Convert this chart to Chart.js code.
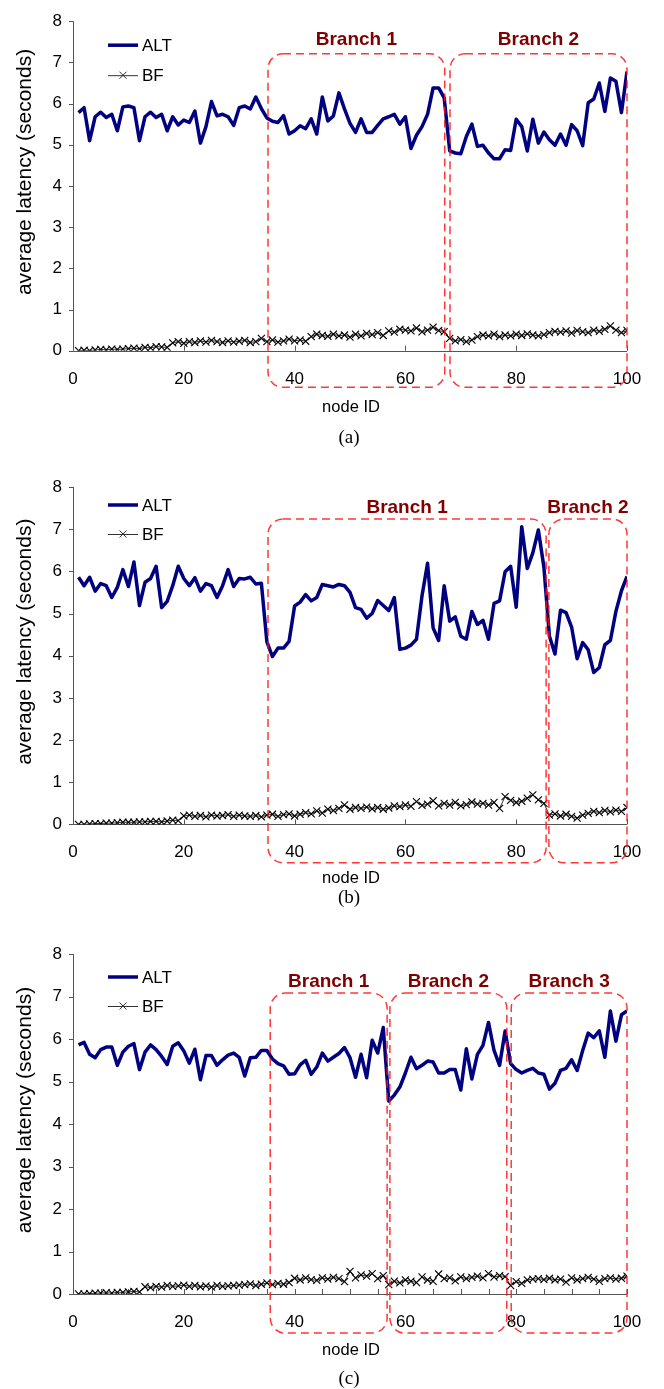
<!DOCTYPE html>
<html>
<head>
<meta charset="utf-8">
<script src="https://cdn.jsdelivr.net/npm/chart.js@4.4.0/dist/chart.umd.min.js"></script>
<style>
  html, body { margin: 0; padding: 0; background: #fff; }
  body { width: 664px; height: 1389px; position: relative; overflow: hidden; }
  /* 450px tall so the "node ID" title is not clipped */
  .panel { position: absolute; left: 0; width: 664px; height: 450px; }
  .caption {
    position: absolute; left: 299px; width: 100px; height: 22px; line-height: 22px;
    text-align: center; color: #000;
    font-family: "Liberation Serif", "DejaVu Serif", serif; font-size: 19px;
  }
</style>
</head>
<body>
<div class="panel" style="top:0"><canvas id="chartA"></canvas></div>
<div class="panel" style="top:460px"><canvas id="chartB"></canvas></div>
<div class="panel" style="top:930px"><canvas id="chartC"></canvas></div>
<div class="caption" style="top:426px">(a)</div>
<div class="caption" style="top:886px">(b)</div>
<div class="caption" style="top:1367px">(c)</div>
<script>
// node IDs 1..100
const nodeIds = Array.from({ length: 100 }, (_, i) => i + 1);
const xTicks = [0, 20, 40, 60, 80, 100];
const yTicks = [0, 1, 2, 3, 4, 5, 6, 7, 8];

// (a)
const altA = [
  5.78, 5.90, 5.10, 5.68, 5.79, 5.66, 5.74, 5.34, 5.92, 5.94,
  5.90, 5.10, 5.68, 5.79, 5.66, 5.74, 5.34, 5.68, 5.48, 5.60,
  5.54, 5.82, 5.04, 5.44, 6.05, 5.70, 5.74, 5.68, 5.47, 5.90,
  5.94, 5.87, 6.16, 5.88, 5.65, 5.57, 5.54, 5.71, 5.26, 5.34,
  5.46, 5.39, 5.63, 5.26, 6.16, 5.58, 5.70, 6.26, 5.87, 5.52,
  5.30, 5.63, 5.30, 5.30, 5.47, 5.63, 5.68, 5.74, 5.50, 5.68,
  4.91, 5.23, 5.44, 5.74, 6.38, 6.38, 6.14, 4.85, 4.80, 4.78,
  5.20, 5.50, 4.96, 4.99, 4.80, 4.66, 4.66, 4.88, 4.86, 5.62,
  5.44, 4.85, 5.62, 5.04, 5.31, 5.12, 4.99, 5.26, 4.99, 5.49,
  5.34, 4.98, 6.02, 6.11, 6.50, 5.81, 6.62, 6.54, 5.78, 6.78
];
const bfA = [
  0.00, 0.01, 0.00, 0.02, 0.03, 0.02, 0.04, 0.03, 0.04, 0.05,
  0.06, 0.05, 0.08, 0.07, 0.10, 0.09, 0.08,
  0.19, 0.22, 0.18, 0.22, 0.20, 0.24, 0.21, 0.25, 0.22, 0.20, 0.24, 0.21, 0.23, 0.25, 0.20, 0.22,
  0.30, 0.22, 0.26, 0.21, 0.24, 0.28, 0.24,
  0.26, 0.23, 0.34, 0.40, 0.37, 0.35, 0.40, 0.36, 0.38, 0.33, 0.40, 0.36, 0.42, 0.39, 0.44, 0.37,
  0.48, 0.45, 0.52, 0.50, 0.48, 0.55, 0.46, 0.50, 0.57, 0.49, 0.46,
  0.30, 0.24, 0.27, 0.22, 0.26,
  0.34, 0.38, 0.36, 0.40, 0.34, 0.38, 0.36, 0.40, 0.37, 0.41, 0.38, 0.36, 0.39,
  0.44, 0.47, 0.45, 0.48, 0.43, 0.49, 0.46, 0.44, 0.50, 0.47, 0.52, 0.60, 0.50, 0.44, 0.49
];
const branchNamesA = ["Branch 1", "Branch 2"];
const branchRangesA = [[35.2, 67.1], [68.05, 100]];

// (b)
const altB = [
  5.86, 5.66, 5.86, 5.53, 5.71, 5.66, 5.38, 5.62, 6.04, 5.64,
  6.22, 5.19, 5.74, 5.83, 6.12, 5.14, 5.29, 5.66, 6.12, 5.83,
  5.66, 5.85, 5.53, 5.71, 5.66, 5.38, 5.66, 6.04, 5.64, 5.83,
  5.82, 5.86, 5.70, 5.72, 4.33, 3.98, 4.18, 4.18, 4.34, 5.18,
  5.27, 5.45, 5.30, 5.38, 5.69, 5.66, 5.63, 5.69, 5.66, 5.50,
  5.14, 5.10, 4.89, 5.00, 5.31, 5.19, 5.07, 5.38, 4.15, 4.18,
  4.25, 4.39, 5.42, 6.19, 4.66, 4.36, 5.66, 4.82, 4.92, 4.46,
  4.39, 5.05, 4.74, 4.84, 4.39, 5.24, 5.30, 5.99, 6.12, 5.15,
  7.06, 6.07, 6.44, 6.98, 6.10, 4.46, 4.04, 5.08, 5.02, 4.68,
  3.93, 4.31, 4.14, 3.60, 3.72, 4.26, 4.36, 5.05, 5.54, 5.88
];
const bfB = [
  0.00, 0.00, 0.01, 0.02, 0.02, 0.03, 0.03, 0.04, 0.05, 0.05,
  0.05, 0.06, 0.06, 0.07, 0.07, 0.06, 0.08, 0.10, 0.09,
  0.20, 0.22, 0.19, 0.21, 0.18, 0.22, 0.20, 0.21, 0.23, 0.19, 0.22, 0.20, 0.19, 0.21, 0.18, 0.22,
  0.24, 0.19, 0.23, 0.25, 0.20, 0.24, 0.28,
  0.25, 0.32, 0.27, 0.36, 0.33, 0.38, 0.46,
  0.36, 0.40, 0.38, 0.41, 0.37, 0.40, 0.36, 0.39,
  0.44, 0.42, 0.46, 0.43,
  0.54, 0.45, 0.48, 0.56, 0.44, 0.50, 0.46, 0.52, 0.44, 0.47, 0.53, 0.48, 0.50, 0.46, 0.52,
  0.38,
  0.66, 0.57, 0.52, 0.55, 0.62, 0.70, 0.58, 0.50,
  0.22, 0.25, 0.20, 0.24, 0.19, 0.15, 0.22, 0.26,
  0.31, 0.28, 0.33, 0.30, 0.34, 0.31, 0.40
];
const branchNamesB = ["Branch 1", "Branch 2"];
const branchRangesB = [[35.2, 85.4], [85.9, 100]];

// (c)
const altC = [
  5.86, 5.92, 5.64, 5.56, 5.75, 5.81, 5.81, 5.38, 5.69, 5.83,
  5.89, 5.28, 5.69, 5.86, 5.75, 5.59, 5.40, 5.83, 5.91, 5.72,
  5.43, 5.76, 5.04, 5.61, 5.61, 5.38, 5.51, 5.62, 5.67, 5.57,
  5.13, 5.56, 5.57, 5.73, 5.73, 5.53, 5.42, 5.37, 5.17, 5.18,
  5.39, 5.50, 5.17, 5.34, 5.67, 5.48, 5.57, 5.66, 5.80, 5.56,
  5.10, 5.64, 5.09, 5.97, 5.67, 6.27, 4.54, 4.68, 4.87, 5.20,
  5.57, 5.30, 5.38, 5.48, 5.46, 5.20, 5.20, 5.28, 5.28, 4.80,
  5.77, 5.06, 5.64, 5.85, 6.39, 5.73, 5.38, 6.19, 5.42, 5.28,
  5.20, 5.26, 5.31, 5.20, 5.17, 4.82, 4.96, 5.26, 5.31, 5.51,
  5.26, 5.73, 6.14, 6.03, 6.19, 5.57, 6.66, 5.95, 6.57, 6.66
];
const bfC = [
  0.00, 0.00, 0.01, 0.02, 0.02, 0.03, 0.02, 0.04, 0.04, 0.05, 0.06, 0.05,
  0.17, 0.15, 0.18, 0.16, 0.20, 0.18, 0.19, 0.21, 0.18, 0.20, 0.17, 0.19, 0.16, 0.20, 0.18, 0.19, 0.20, 0.21,
  0.22, 0.24, 0.20, 0.23, 0.26, 0.22, 0.25, 0.23, 0.27,
  0.37, 0.33, 0.38, 0.34, 0.32, 0.38, 0.35, 0.39, 0.36, 0.29,
  0.53, 0.38, 0.45, 0.42, 0.48, 0.36, 0.43,
  0.22, 0.30, 0.26, 0.33, 0.30, 0.27, 0.40, 0.33, 0.30,
  0.47, 0.36, 0.38, 0.31, 0.40, 0.36, 0.39, 0.42, 0.38, 0.48, 0.40, 0.43, 0.41,
  0.20, 0.29, 0.25, 0.33,
  0.35, 0.36, 0.34, 0.37, 0.33, 0.35, 0.28, 0.38, 0.33, 0.36, 0.39, 0.35, 0.30, 0.36, 0.38, 0.35, 0.37, 0.42
];
const branchNamesC = ["Branch 1", "Branch 2", "Branch 3"];
const branchRangesC = [[35.6, 56.7], [57.2, 78.3], [79.1, 100]];

const NAVY = "#000080";
const SANS = "'Liberation Sans', Arial, Helvetica, sans-serif";
const PANEL_H = 450;

function roundRect(ctx, x, y, w, h, r) {
  ctx.beginPath();
  ctx.moveTo(x + r, y);
  ctx.lineTo(x + w - r, y);
  ctx.arcTo(x + w, y, x + w, y + r, r);
  ctx.lineTo(x + w, y + h - r);
  ctx.arcTo(x + w, y + h, x + w - r, y + h, r);
  ctx.lineTo(x + r, y + h);
  ctx.arcTo(x, y + h, x, y + h - r, r);
  ctx.lineTo(x, y + r);
  ctx.arcTo(x, y, x + r, y, r);
  ctx.closePath();
}

const decor = {
  id: "decor",
  beforeDatasetsDraw(chart, args, o) {
    const { ctx, chartArea: a, scales: { x, y } } = chart;
    ctx.save();
    ctx.strokeStyle = "#555";
    ctx.lineWidth = 1;
    ctx.beginPath();
    ctx.moveTo(a.left + 0.5, a.top);
    ctx.lineTo(a.left + 0.5, a.bottom);
    ctx.moveTo(a.left, Math.round(a.bottom) + 0.5);
    ctx.lineTo(a.right, Math.round(a.bottom) + 0.5);
    yTicks.forEach(v => {
      const py = Math.round(y.getPixelForValue(v)) + 0.5;
      ctx.moveTo(a.left - 4, py);
      ctx.lineTo(a.left, py);
    });
    for (let v = o.xMinor; v <= 100; v += o.xMinor) {
      const px = Math.round(x.getPixelForValue(v)) + 0.5;
      ctx.moveTo(px, a.bottom);
      ctx.lineTo(px, a.bottom - 5);
    }
    ctx.stroke();
    ctx.restore();
  },
  afterDraw(chart, args, o) {
    const { ctx, chartArea: a, scales: { x, y } } = chart;
    ctx.save();

    // y title
    ctx.save();
    ctx.translate(25, (a.top + a.bottom) / 2 - 14);
    ctx.rotate(-Math.PI / 2);
    ctx.font = "21px " + SANS;
    ctx.fillStyle = "#000";
    ctx.textAlign = "center";
    ctx.textBaseline = "middle";
    ctx.fillText("average latency (seconds)", 0, 0);
    ctx.restore();

    // x title
    ctx.font = "16.5px " + SANS;
    ctx.fillStyle = "#000";
    ctx.textAlign = "center";
    ctx.textBaseline = "middle";
    ctx.fillText("node ID", 351, a.bottom + o.nodeIdOffset);

    // legend
    const lx0 = 108, lx1 = 138;
    let ly = a.top + o.legendAlt;
    ctx.strokeStyle = NAVY;
    ctx.lineWidth = 3.5;
    ctx.beginPath();
    ctx.moveTo(lx0, ly);
    ctx.lineTo(lx1, ly);
    ctx.stroke();
    ctx.font = "17px " + SANS;
    ctx.textAlign = "left";
    ctx.fillText("ALT", 142, ly + 1);

    ly = a.top + o.legendBf;
    ctx.strokeStyle = "#333";
    ctx.lineWidth = 1;
    ctx.beginPath();
    ctx.moveTo(lx0, ly + 0.5);
    ctx.lineTo(lx1, ly + 0.5);
    const cx = (lx0 + lx1) / 2, d = 3.5;
    ctx.moveTo(cx - d, ly - d);
    ctx.lineTo(cx + d, ly + d);
    ctx.moveTo(cx - d, ly + d);
    ctx.lineTo(cx + d, ly - d);
    ctx.stroke();
    ctx.fillText("BF", 142, ly + 1);

    // branch boxes
    const top = y.getPixelForValue(o.boxTop);
    const bottom = y.getPixelForValue(o.boxBottom);
    o.ranges.forEach((rg, i) => {
      const l = x.getPixelForValue(rg[0]);
      const r = x.getPixelForValue(rg[1]);
      ctx.setLineDash([8, 5]);
      ctx.strokeStyle = "rgba(255, 20, 20, 0.85)";
      ctx.lineWidth = 1.5;
      roundRect(ctx, l, top, r - l, bottom - top, 15);
      ctx.stroke();
      ctx.setLineDash([]);
      ctx.font = "bold 19px " + SANS;
      ctx.fillStyle = "#800000";
      ctx.textAlign = "center";
      ctx.textBaseline = "middle";
      ctx.fillText(o.names[i], (l + r) / 2, top - o.labelOffset);
    });
    ctx.restore();
  }
};

function makeChart(id, alt, bf, cfg) {
  return new Chart(document.getElementById(id), {
    type: "line",
    data: {
      datasets: [
        {
          label: "ALT",
          data: nodeIds.map((n, i) => ({ x: n, y: alt[i] })),
          borderColor: NAVY,
          borderWidth: 3.5,
          borderJoinStyle: "round",
          pointRadius: 0,
          tension: 0,
        },
        {
          label: "BF",
          data: nodeIds.map((n, i) => ({ x: n, y: bf[i] })),
          borderColor: "#333",
          borderWidth: 1,
          pointStyle: "crossRot",
          pointRadius: 5,
          pointBorderColor: "#000",
          pointBorderWidth: 1.1,
          tension: 0,
        },
      ],
    },
    options: {
      responsive: true,
      maintainAspectRatio: false,
      animation: false,
      events: [],
      layout: { padding: { left: 0, right: 37, top: cfg.top, bottom: 0 } },
      plugins: {
        legend: { display: false },
        tooltip: { enabled: false },
        decor: cfg,
      },
      scales: {
        x: {
          type: "linear",
          min: 0,
          max: 100,
          afterBuildTicks: s => { s.ticks = xTicks.map(v => ({ value: v })); },
          ticks: { padding: 18, color: "#000", font: { family: SANS, size: 17 } },
          grid: { display: false, drawTicks: false },
          border: { display: false },
          afterFit: s => { s.height = PANEL_H - cfg.bottom; },
        },
        y: {
          min: 0,
          max: 8,
          afterBuildTicks: s => { s.ticks = yTicks.map(v => ({ value: v })); },
          ticks: { padding: 11, color: "#000", font: { family: SANS, size: 17 } },
          grid: { display: false, drawTicks: false },
          border: { display: false },
          afterFit: s => { s.width = 73; },
        },
      },
    },
    plugins: [decor],
  });
}

makeChart("chartA", altA, bfA, {
  top: 13, bottom: 350.7, xMinor: 20, nodeIdOffset: 57,
  legendAlt: 24, legendBf: 54,
  boxTop: 7.21, boxBottom: -0.89, labelOffset: 14,
  names: branchNamesA, ranges: branchRangesA,
});
makeChart("chartB", altB, bfB, {
  top: 27, bottom: 364.4, xMinor: 20, nodeIdOffset: 54,
  legendAlt: 18, legendBf: 47,
  boxTop: 7.24, boxBottom: -0.91, labelOffset: 11,
  names: branchNamesB, ranges: branchRangesB,
});
makeChart("chartC", altC, bfC, {
  top: 24, bottom: 364, xMinor: 5, nodeIdOffset: 56,
  legendAlt: 23, legendBf: 52,
  boxTop: 7.08, boxBottom: -0.92, labelOffset: 11,
  names: branchNamesC, ranges: branchRangesC,
});
</script>
</body>
</html>
